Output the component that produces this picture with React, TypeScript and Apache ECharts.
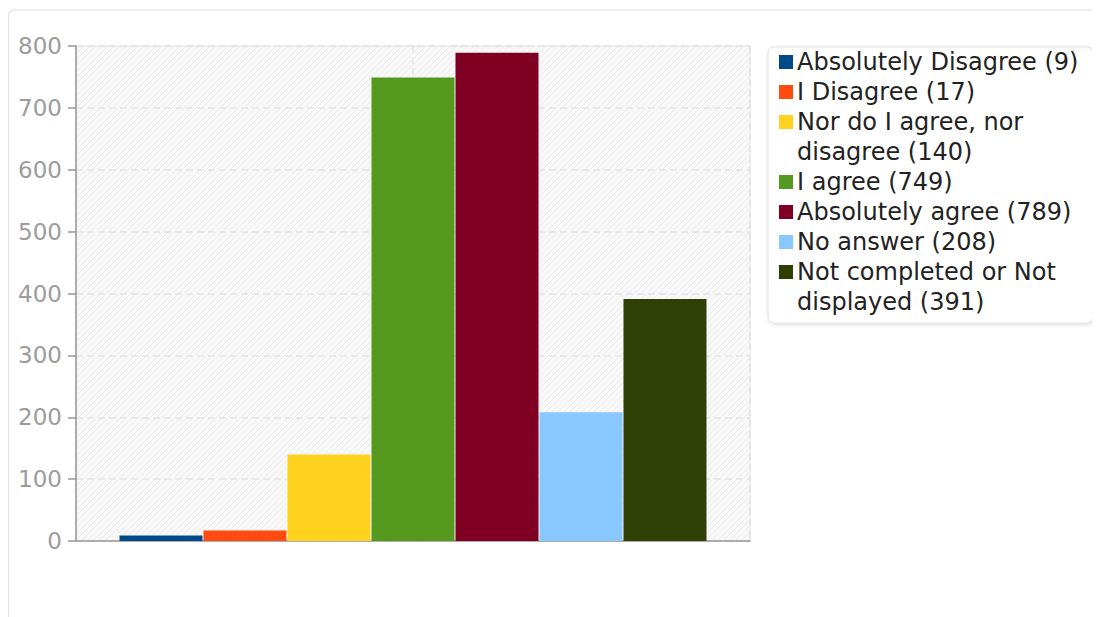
import React, { useEffect, useRef } from "react";
import * as echarts from "echarts";

const labels = [
  "Absolutely Disagree",
  "I Disagree",
  "Nor do I agree, nor\ndisagree",
  "I agree",
  "Absolutely agree",
  "No answer",
  "Not completed or Not\ndisplayed",
];
const values = [9, 17, 140, 749, 789, 208, 391];
const colors = ["#004a8c", "#ff4a10", "#ffd220", "#559a1e", "#7f0022", "#88c8ff", "#303f04"];
const categories = [""];
const yMin = 0;
const yMax = 800;
const yInterval = 100;

const FONT = "DejaVu Sans";

function makeHatch() {
  const c = document.createElement("canvas");
  const s = 6;
  c.width = s;
  c.height = s;
  const ctx = c.getContext("2d");
  if (ctx) {
    ctx.fillStyle = "#f8f8f8";
    ctx.fillRect(0, 0, s, s);
    ctx.strokeStyle = "#ececec";
    ctx.lineWidth = 1;
    ctx.beginPath();
    ctx.moveTo(-1, s + 1);
    ctx.lineTo(s + 1, -1);
    ctx.moveTo(-1, 1);
    ctx.lineTo(1, -1);
    ctx.moveTo(s - 1, s + 1);
    ctx.lineTo(s + 1, s - 1);
    ctx.stroke();
  }
  return c;
}

export default function App() {
  const ref = useRef<HTMLDivElement>(null);
  useEffect(() => {
    if (!ref.current) return;
    const chart = echarts.init(ref.current, undefined, { renderer: "svg" });
    const names = labels.map((l, i) => `${l} (${values[i]})`);
    const rich: any = {
      sp: { width: 18, height: 14, lineHeight: 30 },
      t: { fontSize: 24, fontFamily: FONT, color: "#222", lineHeight: 30 },
    };
    colors.forEach((c, i) => {
      rich["s" + i] = { width: 14, height: 14, backgroundColor: c, lineHeight: 30 };
      rich["g" + i] = { width: 4, lineHeight: 30 };
    });
    let hatch: any = "#f8f8f8";
    try {
      hatch = { image: makeHatch(), repeat: "repeat" };
    } catch (e) {
      hatch = "#f8f8f8";
    }
    chart.setOption({
      animation: false,
      textStyle: { fontFamily: FONT },
      graphic: [
        {
          type: "rect",
          z: -10,
          silent: true,
          shape: { x: 0.5, y: 2, width: 1400, height: 900, r: 6 },
          style: { fill: "#fff", stroke: "#e6e6e6", lineWidth: 1.5 },
        },
      ],
      grid: {
        left: 68,
        top: 38,
        width: 674,
        height: 495,
        show: true,
        backgroundColor: hatch,
        borderColor: "#e0e0e0",
        borderWidth: 1,
      },
      legend: {
        orient: "vertical",
        left: 760,
        top: 39,
        padding: [0, 14, 6, 0],
        itemGap: 0,
        itemWidth: 6,
        itemHeight: 6,
        icon: "rect",
        itemStyle: { opacity: 0 },
        backgroundColor: "#fff",
        borderColor: "#e2e2e2",
        borderWidth: 1,
        borderRadius: 6,
        shadowColor: "rgba(0,0,0,0.15)",
        shadowBlur: 4,
        shadowOffsetX: 1,
        shadowOffsetY: 1,
        selectedMode: false,
        data: names,
        formatter: (name: string) => {
          const i = names.indexOf(name);
          return name
            .split("\n")
            .map((line, j) => (j === 0 ? `{s${i}|}{g${i}|}` : `{sp|}`) + `{t|${line}}`)
            .join("\n");
        },
        textStyle: { fontSize: 24, fontFamily: FONT, color: "#222", lineHeight: 30, rich },
      },
      xAxis: [
        {
          type: "category",
          data: categories,
          axisLine: { show: true, onZero: false, lineStyle: { color: "#999", width: 1.5 } },
          axisTick: { show: false },
          axisLabel: { show: false },
          splitLine: { show: false },
        },
        {
          type: "value",
          position: "top",
          min: -1,
          max: 1,
          interval: 1,
          axisLine: { show: false, onZero: false },
          axisTick: { show: false },
          axisLabel: { show: false },
          splitLine: { show: true, lineStyle: { color: "#e4e4e4", type: [7, 4], width: 1.5 } },
        },
      ],
      yAxis: {
        type: "value",
        min: yMin,
        max: yMax,
        interval: yInterval,
        axisLine: { show: true, onZero: false, lineStyle: { color: "#999", width: 1.5 } },
        axisTick: { show: true, length: 8, lineStyle: { color: "#999", width: 1.5 } },
        axisLabel: { fontSize: 23, fontFamily: FONT, color: "#9c9c9c", margin: 14 },
        splitLine: { show: true, lineStyle: { color: "#e4e4e4", type: [7, 4], width: 1.5 } },
      },
      series: names.map((n, i) => ({
        type: "bar",
        name: n,
        xAxisIndex: 0,
        data: [values[i]],
        barWidth: 83,
        barGap: "1.2%",
        itemStyle: { color: colors[i] },
      })),
    });
    return () => chart.dispose();
  }, []);
  return <div ref={ref} style={{ width: 1092, height: 609 }} />;
}
